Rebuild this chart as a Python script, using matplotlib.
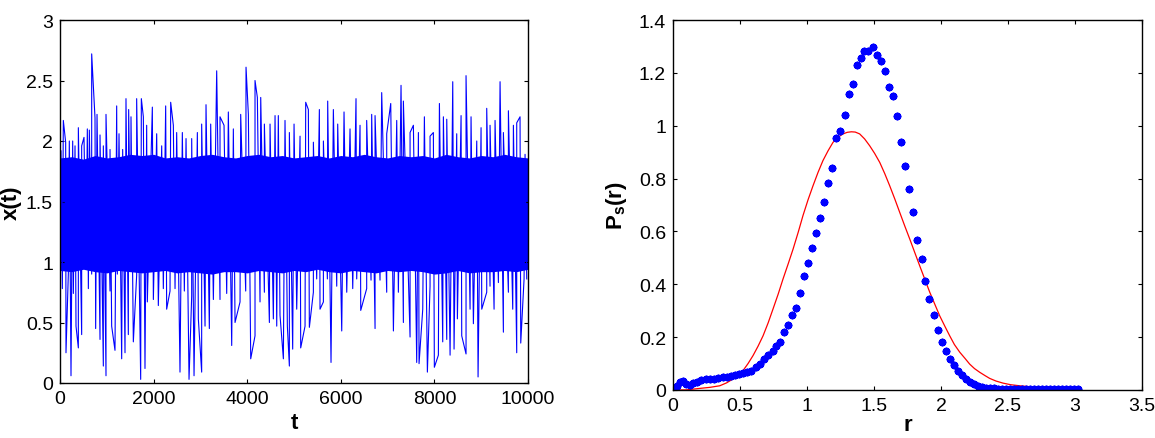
import matplotlib
matplotlib.use("Agg")
import matplotlib.pyplot as plt

plt.rcParams['font.family'] = ['Liberation Sans', 'DejaVu Sans']
plt.rcParams['mathtext.fontset'] = 'custom'
plt.rcParams['mathtext.rm'] = 'Liberation Sans'
plt.rcParams['mathtext.bf'] = 'Liberation Sans:bold'

# ---------------- left panel data: x(t) ----------------
# upward excursions (tips)
t_top = [21, 71, 121, 199, 271, 321, 392, 463, 513, 584, 627, 677, 748, 791, 855, 926, 983,
         1069, 1211, 1261, 1339, 1410, 1467, 1517, 1638, 1738, 1781, 1852, 1973, 2066, 2173,
         2258, 2365, 2422, 2493, 2614, 2693, 2814, 2935, 3027, 3120, 3220, 3348, 3419, 3505,
         3597, 3704, 3861, 3975, 4025, 4167, 4217, 4289, 4367, 4488, 4595, 4665, 4808, 4901,
         5001, 5129, 5250, 5307, 5414, 5542, 5628, 5720, 5841, 5934, 6069, 6197, 6325, 6411,
         6553, 6660, 6732, 6874, 6981, 7067, 7195, 7287, 7337, 7480, 7551, 7658, 7786, 7907,
         7978, 8107, 8192, 8264, 8392, 8477, 8570, 8676, 8783, 8905, 8997, 9118, 9189, 9296,
         9403, 9474, 9581, 9688, 9759, 9830, 9937]
x_top = [1.92, 2.17, 1.99, 2.00, 2.00, 1.96, 2.11, 1.96, 2.03, 2.10, 2.09, 2.72, 2.19, 2.22,
         2.05, 1.96, 2.22, 1.93, 2.29, 2.06, 1.93, 2.35, 2.26, 2.20, 2.35, 2.35, 2.20, 2.13,
         2.28, 2.06, 1.96, 2.29, 2.32, 2.13, 2.07, 2.07, 2.02, 2.02, 2.07, 2.14, 2.30, 2.14,
         2.58, 2.20, 2.13, 2.24, 2.10, 2.22, 2.61, 2.22, 2.50, 2.36, 2.36, 2.14, 2.14, 2.21,
         2.21, 2.17, 2.07, 2.14, 2.04, 2.32, 2.26, 1.99, 2.26, 2.00, 2.33, 2.26, 2.14, 2.24,
         2.10, 2.35, 2.13, 2.17, 2.22, 2.21, 2.40, 2.06, 2.31, 2.17, 2.46, 2.33, 2.07, 2.13,
         2.07, 2.20, 2.04, 2.07, 2.31, 2.20, 2.18, 2.49, 2.06, 2.21, 2.54, 2.20, 2.00, 2.11,
         2.27, 2.13, 2.17, 2.49, 2.07, 2.25, 2.13, 2.15, 2.20, 1.89]

# downward excursions (tips)
t_bot = [0, 50, 128, 178, 235, 285, 342, 392, 463, 556, 606, 677, 762, 855, 926, 983, 1069,
         1104, 1175, 1225, 1318, 1389, 1460, 1510, 1567, 1638, 1724, 1816, 1866, 1995, 2101,
         2208, 2279, 2351, 2458, 2564, 2657, 2757, 2814, 2864, 2956, 3027, 3099, 3191, 3277,
         3419, 3562, 3669, 3740, 3847, 3968, 4075, 4167, 4274, 4367, 4474, 4559, 4631, 4701,
         4773, 4858, 4901, 4972, 5058, 5143, 5236, 5328, 5414, 5485, 5556, 5628, 5713, 5791,
         5913, 6020, 6127, 6255, 6340, 6426, 6553, 6646, 6732, 6838, 6981, 7124, 7230, 7337,
         7480, 7622, 7672, 7751, 7850, 7907, 7999, 8085, 8178, 8264, 8335, 8420, 8491, 8584,
         8676, 8762, 8833, 8933, 9012, 9118, 9189, 9275, 9367, 9474, 9581, 9674, 9759, 9845,
         9916, 9973]
x_bot = [0.69, 0.78, 0.25, 0.90, 0.06, 0.74, 0.47, 0.29, 0.40, 0.96, 0.78, 0.90, 0.45, 0.36,
         0.14, 0.06, 0.76, 0.47, 0.27, 0.90, 0.20, 0.25, 0.40, 1.00, 0.34, 0.89, 0.03, 0.12,
         0.67, 0.69, 0.64, 0.78, 0.61, 0.76, 0.78, 0.09, 0.76, 0.03, 0.72, 0.06, 0.53, 0.09,
         0.47, 0.45, 0.69, 0.69, 0.74, 0.31, 0.50, 0.67, 0.76, 0.20, 0.39, 0.67, 0.75, 0.50,
         0.53, 0.47, 0.56, 0.20, 0.47, 0.14, 0.28, 0.61, 0.29, 0.47, 0.46, 0.75, 0.86, 0.61,
         0.67, 0.86, 0.17, 0.80, 0.43, 0.75, 0.78, 0.86, 0.60, 0.78, 0.85, 0.45, 0.85, 0.75,
         0.43, 0.75, 0.50, 0.38, 0.17, 0.16, 0.61, 0.09, 0.80, 0.13, 0.23, 0.34, 0.36, 0.23,
         0.28, 0.53, 0.39, 0.24, 0.61, 0.49, 0.05, 0.61, 0.75, 0.80, 0.61, 0.83, 0.42, 0.75,
         0.61, 0.25, 0.33, 0.86, 0.86]

# dense core of the trace (edges)
t_core = [0, 250, 500, 750, 1000, 1250, 1500, 1750, 2000, 2250, 2500, 2750, 3000, 3250, 3500,
          3750, 4000, 4250, 4500, 4750, 5000, 5250, 5500, 5750, 6000, 6250, 6500, 6750, 7000,
          7250, 7500, 7750, 8000, 8250, 8500, 8750, 9000, 9250, 9500, 9750, 10000]
core_hi = [1.86, 1.87, 1.85, 1.88, 1.86, 1.87, 1.89, 1.88, 1.89, 1.86, 1.87, 1.86, 1.88, 1.89,
           1.87, 1.86, 1.88, 1.89, 1.87, 1.88, 1.86, 1.87, 1.88, 1.86, 1.88, 1.87, 1.89, 1.87,
           1.86, 1.88, 1.87, 1.88, 1.86, 1.89, 1.87, 1.86, 1.88, 1.87, 1.89, 1.87, 1.86]
core_lo = [0.93, 0.92, 0.94, 0.92, 0.91, 0.93, 0.92, 0.91, 0.92, 0.93, 0.91, 0.92, 0.91, 0.90,
           0.92, 0.92, 0.91, 0.93, 0.92, 0.91, 0.93, 0.92, 0.94, 0.92, 0.91, 0.93, 0.92, 0.91,
           0.93, 0.92, 0.93, 0.92, 0.90, 0.91, 0.93, 0.91, 0.92, 0.92, 0.93, 0.92, 0.94]

# ---------------- right panel data: P_s(r) ----------------
r_sim = [0.005, 0.03, 0.055, 0.075, 0.10, 0.125, 0.15, 0.18, 0.21, 0.245, 0.275, 0.305, 0.336,
         0.37, 0.40, 0.43, 0.46, 0.493, 0.522, 0.555, 0.585, 0.62, 0.648, 0.68, 0.71, 0.743,
         0.772, 0.796, 0.828, 0.858, 0.888, 0.921, 0.946, 0.978, 1.008, 1.038, 1.065, 1.097,
         1.13, 1.157, 1.189, 1.214, 1.244, 1.284, 1.311, 1.343, 1.371, 1.401, 1.428, 1.458,
         1.49, 1.525, 1.552, 1.582, 1.612, 1.644, 1.674, 1.704, 1.734, 1.764, 1.793, 1.823,
         1.856, 1.883, 1.913, 1.945, 1.975, 2.005, 2.035, 2.065, 2.095, 2.125, 2.155, 2.185,
         2.215, 2.245, 2.275, 2.305, 2.335, 2.365, 2.395, 2.425, 2.455, 2.485, 2.515, 2.545,
         2.575, 2.605, 2.635, 2.665, 2.695, 2.725, 2.755, 2.785, 2.815, 2.845, 2.875, 2.905,
         2.935, 2.965, 2.995, 3.025]
P_sim = [0.004, 0.016, 0.029, 0.035, 0.023, 0.019, 0.026, 0.032, 0.036, 0.040, 0.043, 0.043,
         0.047, 0.048, 0.049, 0.053, 0.058, 0.062, 0.065, 0.067, 0.073, 0.086, 0.098, 0.117,
         0.132, 0.149, 0.168, 0.183, 0.218, 0.246, 0.284, 0.310, 0.367, 0.432, 0.480, 0.537,
         0.594, 0.650, 0.712, 0.783, 0.839, 0.952, 0.981, 1.040, 1.120, 1.157, 1.230, 1.256,
         1.281, 1.281, 1.297, 1.268, 1.246, 1.206, 1.145, 1.111, 1.036, 0.940, 0.849, 0.760,
         0.673, 0.568, 0.496, 0.414, 0.344, 0.284, 0.228, 0.180, 0.149, 0.118, 0.094, 0.073,
         0.055, 0.040, 0.030, 0.022, 0.016, 0.012, 0.009, 0.007, 0.006, 0.005, 0.004, 0.004,
         0.004, 0.003, 0.003, 0.003, 0.003, 0.003, 0.003, 0.002, 0.002, 0.002, 0.002, 0.002,
         0.002, 0.002, 0.002, 0.002, 0.002, 0.002]

r_fit = [0.0, 0.1, 0.199, 0.275, 0.349, 0.40, 0.448, 0.485, 0.522, 0.56, 0.597, 0.635, 0.672,
         0.71, 0.746, 0.785, 0.821, 0.86, 0.896, 0.935, 0.970, 1.008, 1.045, 1.082, 1.119,
         1.157, 1.194, 1.23, 1.269, 1.30, 1.331, 1.36, 1.393, 1.43, 1.468, 1.505, 1.543, 1.58,
         1.617, 1.655, 1.692, 1.73, 1.767, 1.805, 1.841, 1.88, 1.916, 1.955, 1.990, 2.03, 2.065,
         2.10, 2.140, 2.18, 2.214, 2.25, 2.289, 2.33, 2.363, 2.41, 2.463, 2.52, 2.587, 2.65,
         2.712, 2.78, 2.85, 2.96, 3.03]
P_fit = [0.0, 0.0005, 0.006, 0.010, 0.016, 0.027, 0.042, 0.056, 0.073, 0.100, 0.130, 0.166,
         0.205, 0.254, 0.306, 0.363, 0.420, 0.478, 0.533, 0.598, 0.660, 0.720, 0.773, 0.823,
         0.868, 0.905, 0.937, 0.956, 0.969, 0.975, 0.977, 0.976, 0.969, 0.950, 0.924, 0.895,
         0.861, 0.819, 0.773, 0.723, 0.672, 0.620, 0.571, 0.519, 0.470, 0.418, 0.370, 0.323,
         0.281, 0.240, 0.205, 0.172, 0.143, 0.119, 0.098, 0.081, 0.067, 0.054, 0.044, 0.034,
         0.026, 0.020, 0.016, 0.013, 0.010, 0.008, 0.006, 0.004, 0.003]

left_xticks = [0, 2000, 4000, 6000, 8000, 10000]
left_yticks = [0, 0.5, 1, 1.5, 2, 2.5, 3]
left_yticklabels = ['0', '0.5', '1', '1.5', '2', '2.5', '3']
right_xticks = [0, 0.5, 1, 1.5, 2, 2.5, 3, 3.5]
right_xticklabels = ['0', '0.5', '1', '1.5', '2', '2.5', '3', '3.5']
right_yticks = [0, 0.2, 0.4, 0.6, 0.8, 1.0, 1.2, 1.4]
right_yticklabels = ['0', '0.2', '0.4', '0.6', '0.8', '1', '1.2', '1.4']

# ---------------- figure ----------------
W, H = 1155, 439
fig = plt.figure(figsize=(W / 100, H / 100), dpi=100)
ax1 = fig.add_axes([60 / W, 1 - 384 / H, 468 / W, 363 / H])
ax2 = fig.add_axes([673 / W, 1 - 391 / H, 469 / W, 370 / H])

blue = (0, 0, 1)

# trace: excursion tips joined in time order
pairs = sorted(list(zip(t_top, x_top)) + list(zip(t_bot, x_bot)))
t_series = [p[0] for p in pairs]
x_series = [p[1] for p in pairs]
ax1.fill_between(t_core, core_lo, core_hi, color=blue, lw=0)
ax1.plot(t_series, x_series, color=blue, lw=0.8)
ax1.set_xlim(0, 10000)
ax1.set_ylim(0, 3)
ax1.set_xticks(left_xticks)
ax1.set_xticklabels([str(v) for v in left_xticks])
ax1.set_yticks(left_yticks)
ax1.set_yticklabels(left_yticklabels)
ax1.set_xlabel('t', fontsize=16, fontweight='bold', labelpad=4)
ax1.set_ylabel('x(t)', fontsize=16, fontweight='bold', labelpad=3)

ax2.plot(r_fit, P_fit, color='red', lw=0.9)
ax2.plot(r_sim, P_sim, linestyle='none', marker=(8, 2, 0), markersize=5.5,
         markeredgewidth=1.4, color=blue)
ax2.set_xlim(0, 3.5)
ax2.set_ylim(0, 1.4)
ax2.set_xticks(right_xticks)
ax2.set_xticklabels(right_xticklabels)
ax2.set_yticks(right_yticks)
ax2.set_yticklabels(right_yticklabels)
ax2.set_xlabel('r', fontsize=16, fontweight='bold', labelpad=0)
ax2.set_ylabel(r'$\mathbf{P_s(r)}$', fontsize=16, labelpad=7)

for ax in (ax1, ax2):
    ax.tick_params(direction='in', length=3.2, width=0.8, top=True, right=True,
                   labelsize=14, colors='black', pad=5)
    for s in ax.spines.values():
        s.set_linewidth(1.0)
        s.set_color('black')

fig.savefig('out.png', dpi=100)
